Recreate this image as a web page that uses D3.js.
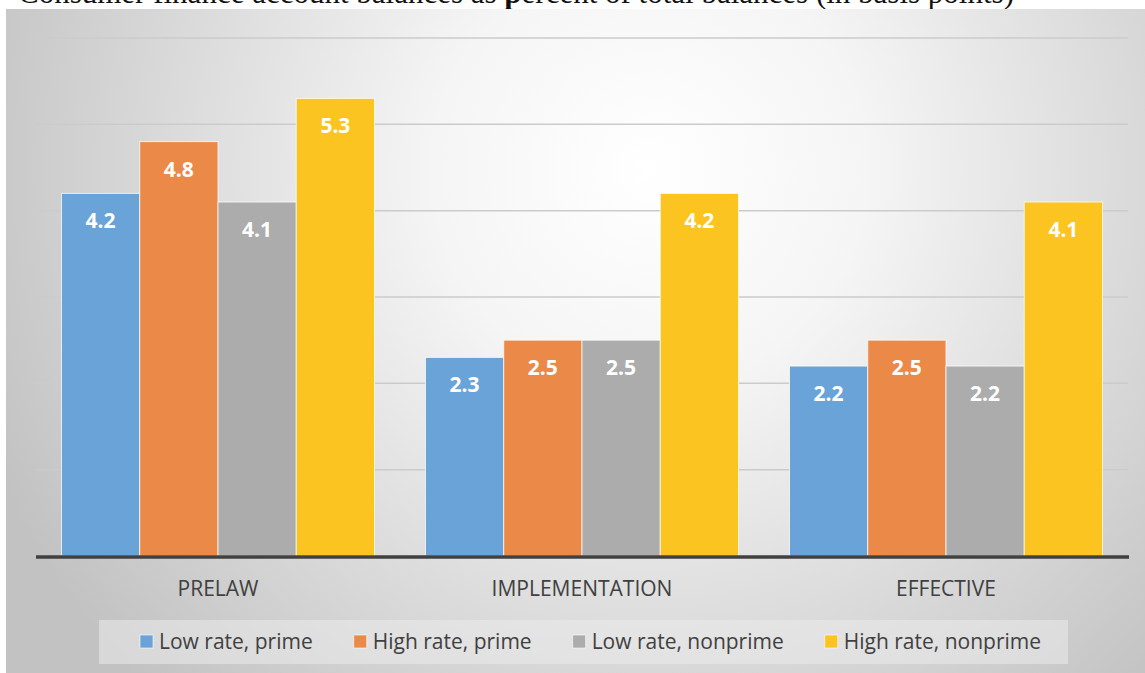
<!DOCTYPE html>
<html>
<head>
<meta charset="utf-8">
<script src="https://cdn.jsdelivr.net/npm/d3@7"></script>
<style>
  html, body { margin: 0; padding: 0; background: #ffffff; }
  svg { display: block; }
</style>
</head>
<body>
<svg id="chart" width="1145" height="673"></svg>
<script>
// Chart data
const categories = ["PRELAW", "IMPLEMENTATION", "EFFECTIVE"];
const seriesNames = ["Low rate, prime", "High rate, prime", "Low rate, nonprime", "High rate, nonprime"];
const lowRatePrime = [4.2, 2.3, 2.2];
const highRatePrime = [4.8, 2.5, 2.5];
const lowRateNonprime = [4.1, 2.5, 2.2];
const highRateNonprime = [5.3, 4.2, 4.1];
const gridTicks = [1, 2, 3, 4, 5, 6];
const seriesColors = ["#6aa3d7", "#eb8a48", "#acacac", "#fbc421"];

const seriesValues = [lowRatePrime, highRatePrime, lowRateNonprime, highRateNonprime];
const rows = categories.map((c, i) => ({
  category: c,
  values: seriesNames.map((s, j) => ({ series: s, value: seriesValues[j][i] }))
}));

const W = 1145, H = 673;
const svg = d3.select("#chart");
const defs = svg.append("defs");

// Soft radial background of the chart panel
const grad = defs.append("radialGradient")
  .attr("id", "panelGrad")
  .attr("gradientUnits", "userSpaceOnUse")
  .attr("cx", 650).attr("cy", 170).attr("r", 720);
grad.append("stop").attr("offset", 0).attr("stop-color", "#ffffff");
grad.append("stop").attr("offset", 0.3).attr("stop-color", "#f5f5f5");
grad.append("stop").attr("offset", 1).attr("stop-color", "#c2c2c2");

// Title line (sits mostly above the visible area)
svg.append("text")
  .attr("x", 18).attr("y", 3)
  .attr("font-family", "'Liberation Serif', 'DejaVu Serif', serif")
  .attr("font-size", 31)
  .attr("fill", "#111")
  .html("Consumer finance account balances as <tspan font-weight='bold'>p</tspan>ercent of total balances (in basis points)");

svg.append("rect")
  .attr("x", 6).attr("y", 9)
  .attr("width", W - 6).attr("height", H - 9)
  .attr("fill", "url(#panelGrad)");

const plot = { left: 36, right: 1128, top: 38, bottom: 556 };

const x0 = d3.scaleBand()
  .domain(categories)
  .range([plot.left, plot.right])
  .padding(0);

const x1 = d3.scaleBand()
  .domain(seriesNames)
  .range([x0.bandwidth() * 0.07, x0.bandwidth() * 0.93])
  .padding(0);

const y = d3.scaleLinear()
  .domain([0, 6])
  .range([plot.bottom, plot.top]);

const color = d3.scaleOrdinal().domain(seriesNames).range(seriesColors);

// Horizontal gridlines
svg.append("g")
  .selectAll("line")
  .data(gridTicks)
  .join("line")
  .attr("x1", plot.left).attr("x2", plot.right)
  .attr("y1", d => y(d)).attr("y2", d => y(d))
  .attr("stroke", "#cbcbcb")
  .attr("stroke-width", 1.5);

// Bars
const groups = svg.append("g")
  .selectAll("g")
  .data(rows)
  .join("g")
  .attr("transform", d => `translate(${x0(d.category)},0)`);

groups.selectAll("rect")
  .data(d => d.values)
  .join("rect")
  .attr("x", d => x1(d.series))
  .attr("y", d => y(d.value))
  .attr("width", x1.bandwidth())
  .attr("height", d => y(0) - y(d.value))
  .attr("fill", d => color(d.series))
  .attr("stroke", "rgba(255,255,255,0.75)")
  .attr("stroke-width", 1);

// Value labels inside the top of each bar
groups.selectAll("text")
  .data(d => d.values)
  .join("text")
  .attr("x", d => x1(d.series) + x1.bandwidth() / 2)
  .attr("y", d => y(d.value) + 35)
  .attr("text-anchor", "middle")
  .attr("font-family", "'Open Sans', sans-serif")
  .attr("font-weight", "bold")
  .attr("font-size", 21)
  .attr("fill", "#ffffff")
  .text(d => d3.format(".1f")(d.value));

// Category axis
const xAxis = d3.axisBottom(x0).tickSize(0).tickPadding(0);
const axisG = svg.append("g")
  .attr("transform", `translate(0,${plot.bottom})`)
  .call(xAxis);
axisG.select(".domain")
  .attr("d", `M${plot.left},1H${plot.right + 1}`)
  .attr("stroke", "#404040")
  .attr("stroke-width", 3.5);
axisG.selectAll(".tick text")
  .attr("y", 40)
  .attr("dy", 0)
  .attr("font-family", "'Open Sans', sans-serif")
  .attr("font-size", 21)
  .attr("fill", "#404040");

// Legend
const legendBox = { x: 99, y: 620, w: 969, h: 44 };
svg.append("rect")
  .attr("x", legendBox.x).attr("y", legendBox.y)
  .attr("width", legendBox.w).attr("height", legendBox.h)
  .attr("fill", "rgba(235,235,235,0.55)");

const legend = svg.append("g");
let lx = 140;
seriesNames.forEach(name => {
  const item = legend.append("g");
  item.append("rect")
    .attr("x", lx).attr("y", 635)
    .attr("width", 13).attr("height", 13)
    .attr("fill", color(name))
    .attr("stroke", "rgba(255,255,255,0.6)")
    .attr("stroke-width", 1);
  const t = item.append("text")
    .attr("x", lx + 19).attr("y", 649)
    .attr("font-family", "'Open Sans', sans-serif")
    .attr("font-size", 21)
    .attr("fill", "#404040")
    .text(name);
  lx += 19 + t.node().getComputedTextLength() + 41;
});
</script>
</body>
</html>
